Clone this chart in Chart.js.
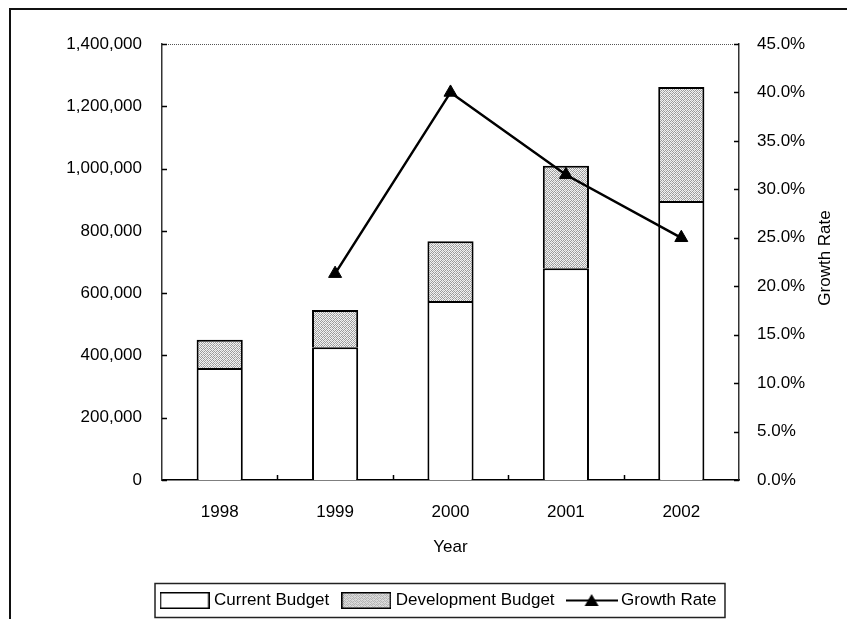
<!DOCTYPE html>
<html>
<head>
<meta charset="utf-8">
<title>Budget</title>
<script src="https://cdn.jsdelivr.net/npm/chart.js@4.4.1/dist/chart.umd.min.js"></script>
<style>
  html, body { margin: 0; padding: 0; background: #fff; }
  #wrap { width: 847px; height: 619px; position: relative; }
</style>
</head>
<body>
<div id="wrap"><canvas id="budgetChart"></canvas></div>
<script>
// Budget by year
const years = ['1998', '1999', '2000', '2001', '2002'];
const currentBudget = [360000, 426000, 575000, 680000, 896000];
const developmentBudget = [90000, 120000, 192000, 329000, 366000];
// Growth rate of the total budget, in percent
const growthRate = [null, 21.3, 40.0, 31.5, 25.0];

const FONT = '"Liberation Sans", Arial, sans-serif';
const FONT_SIZE = 17;
Chart.defaults.font.family = FONT;
Chart.defaults.font.size = FONT_SIZE;
Chart.defaults.color = '#000';

// Grey stipple fill for the development part
function makeStipple() {
    const rows = [
        'LDLDLD',
        'DLMLDL',
        'LDLDLM',
        'DLDLDL',
        'LMLDLD',
        'DLDLML'
    ];
    const tone = { L: '#f2f2f2', D: '#9a9a9a', M: '#c4c4c4' };
    const c = document.createElement('canvas');
    c.width = 6; c.height = 6;
    const g = c.getContext('2d');
    rows.forEach((row, y) => {
        [...row].forEach((ch, x) => {
            g.fillStyle = tone[ch];
            g.fillRect(x, y, 1, 1);
        });
    });
    return g.createPattern(c, 'repeat');
}
const stipple = makeStipple();

// Legend symbols
function makeSwatch(fill) {
    const c = document.createElement('canvas');
    c.width = 50; c.height = 17;
    const g = c.getContext('2d');
    g.fillStyle = fill;
    g.fillRect(0, 0, 50, 17);
    g.strokeStyle = '#000';
    g.lineWidth = 1.5;
    g.strokeRect(0.75, 0.75, 48.5, 15.5);
    return c;
}
function makeLineSymbol() {
    const c = document.createElement('canvas');
    c.width = 52; c.height = 17;
    const g = c.getContext('2d');
    g.strokeStyle = '#000';
    g.lineWidth = 2;
    g.beginPath();
    g.moveTo(0, 8.5);
    g.lineTo(52, 8.5);
    g.stroke();
    g.fillStyle = '#000';
    g.beginPath();
    g.moveTo(26, 2);
    g.lineTo(33, 14);
    g.lineTo(19, 14);
    g.closePath();
    g.fill();
    return c;
}
const legendSymbols = [makeSwatch('#fff'), makeSwatch(stipple), makeLineSymbol()];

// Frame, plot edge, inward tick marks, right axis title and legend box
const decorations = {
    id: 'decorations',
    beforeDraw(chart) {
        const ctx = chart.ctx;
        ctx.save();
        ctx.fillStyle = '#fff';
        ctx.fillRect(0, 0, chart.width, chart.height);
        ctx.strokeStyle = '#111';
        ctx.lineWidth = 2;
        ctx.beginPath();
        ctx.moveTo(10, chart.height);
        ctx.lineTo(10, 9);
        ctx.lineTo(chart.width, 9);
        ctx.stroke();
        ctx.restore();
    },
    afterDraw(chart) {
        const ctx = chart.ctx;
        const {left, right, top, bottom} = chart.chartArea;
        const sx = chart.scales.x, sy = chart.scales.y, sy1 = chart.scales.y1;
        ctx.save();

        // dotted top edge of the plot
        ctx.strokeStyle = '#555';
        ctx.lineWidth = 1;
        ctx.setLineDash([1, 1]);
        ctx.beginPath();
        ctx.moveTo(left, top + 0.5);
        ctx.lineTo(right, top + 0.5);
        ctx.stroke();
        ctx.setLineDash([]);

        ctx.strokeStyle = '#000';
        ctx.lineWidth = 1.5;
        ctx.beginPath();
        sy.ticks.forEach(t => {
            const py = Math.round(sy.getPixelForValue(t.value)) + 0.5;
            ctx.moveTo(left, py);
            ctx.lineTo(left + 5, py);
        });
        sy1.ticks.forEach(t => {
            const py = Math.round(sy1.getPixelForValue(t.value)) + 0.5;
            ctx.moveTo(right - 5, py);
            ctx.lineTo(right, py);
        });
        for (let i = 1; i < years.length; i++) {
            const px = Math.round((sx.getPixelForValue(i - 1) + sx.getPixelForValue(i)) / 2) + 0.5;
            ctx.moveTo(px, bottom);
            ctx.lineTo(px, bottom - 5);
        }
        ctx.stroke();

        // right axis title, reading bottom to top
        ctx.fillStyle = '#000';
        ctx.font = FONT_SIZE + 'px ' + FONT;
        ctx.textAlign = 'center';
        ctx.textBaseline = 'middle';
        ctx.translate(sy1.right - 22, (top + bottom) / 2 - 4);
        ctx.rotate(-Math.PI / 2);
        ctx.fillText('Growth Rate', 0, 0);
        ctx.setTransform(1, 0, 0, 1, 0, 0);

        // box round the legend
        const boxes = chart.legend.legendHitBoxes;
        if (boxes && boxes.length) {
            const first = boxes[0], last = boxes[boxes.length - 1];
            const x0 = first.left - 8.5;
            const x1 = last.left + last.width + 8.5;
            const y0 = first.top - 8.5;
            const y1 = first.top + first.height + 8.5;
            ctx.strokeStyle = '#222';
            ctx.lineWidth = 1.5;
            ctx.strokeRect(x0, y0, x1 - x0, y1 - y0);
        }
        ctx.restore();
    }
};

new Chart(document.getElementById('budgetChart'), {
    type: 'bar',
    data: {
        labels: years,
        datasets: [{
            label: 'Current Budget',
            data: currentBudget,
            backgroundColor: '#fff',
            borderColor: '#000',
            borderWidth: 2,
            categoryPercentage: 0.8,
            barPercentage: 0.5,
            yAxisID: 'y',
            order: 1
        }, {
            label: 'Development Budget',
            data: developmentBudget,
            backgroundColor: stipple,
            borderColor: '#000',
            borderWidth: 2,
            categoryPercentage: 0.8,
            barPercentage: 0.5,
            yAxisID: 'y',
            order: 2
        }, {
            type: 'line',
            label: 'Growth Rate',
            data: growthRate,
            borderColor: '#000',
            backgroundColor: '#000',
            borderWidth: 2.5,
            pointStyle: 'triangle',
            pointRadius: 7.5,
            pointBorderWidth: 1,
            tension: 0,
            yAxisID: 'y1',
            order: 0
        }]
    },
    options: {
        responsive: true,
        maintainAspectRatio: false,
        animation: false,
        layout: {
            padding: { top: 44, left: 33, right: 0, bottom: 0 }
        },
        plugins: {
            tooltip: { enabled: false },
            legend: {
                position: 'bottom',
                labels: {
                    usePointStyle: true,
                    pointStyleWidth: 42,
                    boxHeight: 17,
                    padding: 16,
                    color: '#000',
                    font: { size: FONT_SIZE },
                    generateLabels(chart) {
                        return chart.data.datasets.map((ds, i) => ({
                            text: ds.label,
                            pointStyle: legendSymbols[i],
                            fillStyle: '#000',
                            strokeStyle: '#000',
                            lineWidth: 0,
                            hidden: false,
                            datasetIndex: i,
                            fontColor: '#000'
                        }));
                    }
                }
            }
        },
        scales: {
            x: {
                stacked: true,
                grid: { display: false },
                border: { display: true, color: '#000', width: 1.5 },
                ticks: { padding: 14 },
                title: {
                    display: true,
                    text: 'Year',
                    padding: { top: 0, bottom: 18 }
                },
                afterFit(scale) { scale.height = 96; }
            },
            y: {
                stacked: true,
                min: 0,
                max: 1400000,
                grid: { display: false },
                border: { display: true, color: '#333', width: 1.5 },
                ticks: {
                    stepSize: 200000,
                    padding: 12,
                    callback: v => v.toLocaleString('en-US')
                },
                afterFit(scale) { scale.width = 129; }
            },
            y1: {
                position: 'right',
                min: 0,
                max: 45,
                grid: { display: false },
                border: { display: true, color: '#333', width: 1.5 },
                ticks: {
                    stepSize: 5,
                    padding: 10,
                    callback: v => v.toFixed(1) + '%'
                },
                afterFit(scale) { scale.width = 108; }
            }
        }
    },
    plugins: [decorations]
});
</script>
</body>
</html>
